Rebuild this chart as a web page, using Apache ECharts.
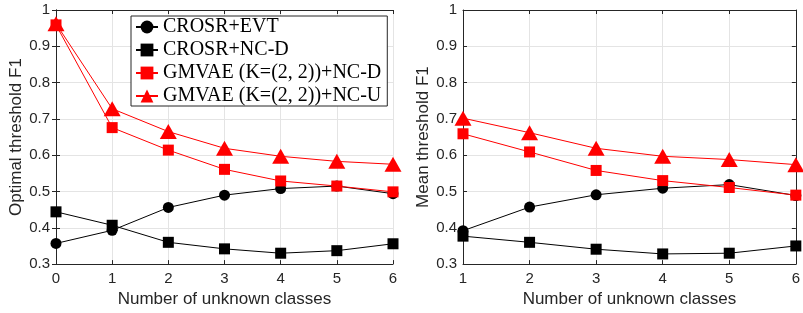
<!DOCTYPE html>
<html><head><meta charset="utf-8">
<script src="https://cdn.jsdelivr.net/npm/echarts@6/dist/echarts.min.js"></script>
<style>html,body{margin:0;padding:0;background:#fff}#c{width:803px;height:313px}</style>
</head><body><div id="c"></div>
<script>
const xLeft = [0, 1, 2, 3, 4, 5, 6];
const xRight = [1, 2, 3, 4, 5, 6];
const seriesNames = ['CROSR+EVT', 'CROSR+NC-D', 'GMVAE (K=(2, 2))+NC-D', 'GMVAE (K=(2, 2))+NC-U'];
// Left: Optimal threshold F1
const leftEVT  = [0.357, 0.393, 0.456, 0.490, 0.508, 0.515, 0.494];
const leftNCD  = [0.444, 0.407, 0.360, 0.342, 0.330, 0.337, 0.356];
const leftGNCD = [0.959, 0.676, 0.614, 0.561, 0.529, 0.515, 0.499];
const leftGNCU = [0.962, 0.728, 0.665, 0.619, 0.597, 0.583, 0.575];
// Right: Mean threshold F1
const rightEVT  = [0.392, 0.457, 0.491, 0.509, 0.519, 0.489];
const rightNCD  = [0.377, 0.360, 0.341, 0.328, 0.330, 0.350];
const rightGNCD = [0.659, 0.609, 0.558, 0.530, 0.511, 0.490];
const rightGNCU = [0.702, 0.662, 0.619, 0.597, 0.588, 0.574];
const yTicks = [0.3, 0.4, 0.5, 0.6, 0.7, 0.8, 0.9, 1];
const yLabelLeft = 'Optimal threshold F1';
const yLabelRight = 'Mean threshold F1';
const xLabel = 'Number of unknown classes';

const AX = '#262626';
const GRID = '#e4e4e4';
const FONT = 'Liberation Sans';

function pair(xs, ys){ return xs.map((x,i)=>[x, ys[i]]); }

const styles = [
  {color:'#000', symbol:'circle', size:11},
  {color:'#000', symbol:'rect', size:11},
  {color:'#ff0000', symbol:'rect', size:11},
  {color:'#ff0000', symbol:'triangle', size:[17,15]}
];

function mkSeries(idx, xs, ys, gi){
  const s = styles[idx];
  return {
    type:'line', name: seriesNames[idx], xAxisIndex: gi*2, yAxisIndex: gi*2,
    data: pair(xs, ys), symbol: s.symbol, symbolSize: s.size, clip:false,
    lineStyle:{color:s.color, width:1}, itemStyle:{color:s.color},
    emphasis:{disabled:true}, animation:false, z: 2+idx
  };
}

function xAxes(gi, min, max){
  return [
    {type:'value', gridIndex:gi, min, max, interval:1, position:'bottom',
     name: xLabel, nameLocation:'middle', nameGap:22,
     nameTextStyle:{color:AX, fontSize:17, fontFamily:FONT},
     axisLine:{show:true, lineStyle:{color:AX}},
     axisTick:{show:true, inside:true, length:4, lineStyle:{color:AX}},
     axisLabel:{color:AX, fontSize:15, fontFamily:FONT, margin:7},
     splitLine:{show:true, lineStyle:{color:GRID}}},
    {type:'value', gridIndex:gi, min, max, interval:1, position:'top',
     axisLine:{show:true, lineStyle:{color:AX}},
     axisTick:{show:true, inside:true, length:4, lineStyle:{color:AX}},
     axisLabel:{show:false}, splitLine:{show:false}}
  ];
}
function yAxes(gi, name, gap){
  return [
    {type:'value', gridIndex:gi, min:0.3, max:1, interval:0.1, position:'left',
     name, nameLocation:'middle', nameGap:gap,
     nameTextStyle:{color:AX, fontSize:17, fontFamily:FONT},
     axisLine:{show:true, lineStyle:{color:AX}},
     axisTick:{show:true, inside:true, length:4, lineStyle:{color:AX}},
     axisLabel:{color:AX, fontSize:15, fontFamily:FONT, margin:6,
       formatter: v => { const r = Math.round(v*10)/10; return yTicks.includes(r) ? String(r) : ''; }},
     splitLine:{show:true, lineStyle:{color:GRID}}},
    {type:'value', gridIndex:gi, min:0.3, max:1, interval:0.1, position:'right',
     axisLine:{show:true, lineStyle:{color:AX}},
     axisTick:{show:true, inside:true, length:4, lineStyle:{color:AX}},
     axisLabel:{show:false}, splitLine:{show:false}}
  ];
}

const chart = echarts.init(document.getElementById('c'), null, {renderer:'canvas'});
chart.setOption({
  animation:false,
  backgroundColor:'#fff',
  grid:[
    {left:56, top:10, width:337, height:258},
    {left:463, top:10, width:338, height:258}
  ],
  xAxis:[...xAxes(0,0,6), ...xAxes(1,1,6)],
  yAxis:[...yAxes(0, yLabelLeft, 30), ...yAxes(1, yLabelRight, 26)],
  legend:{
    show:true, orient:'vertical', left:131, top:16,
    data: seriesNames,
    backgroundColor:'#fff', borderColor:AX, borderWidth:1,
    padding:[1, 6, 0, 4], itemGap:3, itemWidth:22, itemHeight:16,
    textStyle:{color:'#000', fontSize:20, fontFamily:'Liberation Serif', lineHeight:16},
    selectedMode:false
  },
  series:[
    mkSeries(0, xLeft, leftEVT, 0),
    mkSeries(1, xLeft, leftNCD, 0),
    mkSeries(2, xLeft, leftGNCD, 0),
    mkSeries(3, xLeft, leftGNCU, 0),
    mkSeries(0, xRight, rightEVT, 1),
    mkSeries(1, xRight, rightNCD, 1),
    mkSeries(2, xRight, rightGNCD, 1),
    mkSeries(3, xRight, rightGNCU, 1)
  ]
});
</script></body></html>
